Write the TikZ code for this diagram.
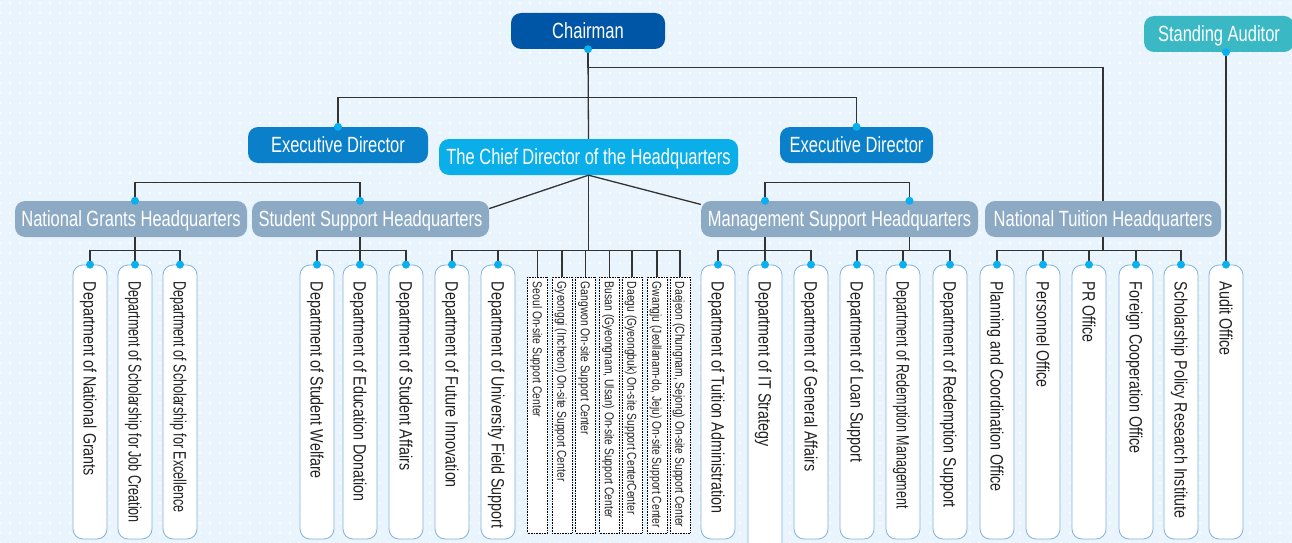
\documentclass[tikz,border=0pt]{standalone}
\usepackage{fontspec}
\setmainfont{Liberation Sans}[FakeStretch=0.8]
\newfontfamily\narrowfont{Liberation Sans}[FakeStretch=0.7]
\newfontfamily\headfont{Liberation Sans}[FakeStretch=0.75]
\usetikzlibrary{patterns.meta}

\definecolor{bgblue}{HTML}{EAF4FC}
\definecolor{chairblue}{HTML}{0056A6}
\definecolor{execblue}{HTML}{0A7FCA}
\definecolor{chiefcyan}{HTML}{0AAFEA}
\definecolor{auditteal}{HTML}{3AB8C4}
\definecolor{hqgrey}{HTML}{8DAAC5}
\definecolor{deptline}{HTML}{82B2DE}
\definecolor{dotblue}{HTML}{0AB0EE}
\definecolor{linegrey}{HTML}{333333}
\definecolor{inktext}{HTML}{222222}

\newcommand\topsize{\headfont\fontsize{22}{26}\selectfont}
\newcommand\deptsize{\fontsize{17.9}{20}\selectfont}
\newcommand\sitesize{\fontsize{12.9}{14}\selectfont}

\begin{document}
\begin{tikzpicture}[x=1pt,y=-1pt,
    topbox/.style={rounded corners=10pt, text=white, minimum height=36pt, inner sep=0pt,
      text height=15.5pt, text depth=0pt, font=\topsize},
    hqbox/.style={topbox, fill=hqgrey},
    dept/.style={draw=deptline, fill=white, rounded corners=10pt, line width=0.8pt,
      minimum width=34pt, minimum height=274pt, inner sep=0pt},
    depttext/.style={rotate=-90, anchor=west, inner sep=0pt, text=inktext,
      text height=12.8pt, text depth=0pt, font=\deptsize},
    narrowtext/.style={depttext, font={\narrowfont\deptsize}},
    site/.style={draw=black, densely dotted, fill=white, line width=0.6pt,
      minimum width=20pt, minimum height=256pt, inner sep=0pt},
    sitetext/.style={rotate=-90, anchor=west, inner sep=0pt, text=inktext,
      text height=9.2pt, text depth=0pt, font=\sitesize},
    link/.style={draw=linegrey, line width=1.3pt},
  ]

  \useasboundingbox (0,0) rectangle (1292,543);
  \fill[bgblue] (0,0) rectangle (1292,543);
  \fill[pattern={Dots[distance=10pt,radius=1.2pt]}, pattern color=white] (0,0) rectangle (1292,543);

  \node[topbox, fill=chairblue, minimum width=154pt] (chair) at (588,31) {Chairman};
  \node[topbox, fill=auditteal, minimum width=150pt] (auditor) at (1219,34) {Standing Auditor};
  \node[topbox, fill=execblue, minimum width=180pt] (exec1) at (338,145) {Executive Director};
  \node[topbox, fill=execblue, minimum width=153pt] (exec2) at (856.5,145) {Executive Director};
  \node[topbox, fill=chiefcyan, minimum width=299pt] (chief) at (588.5,157) {The Chief Director of the Headquarters};

  \node[hqbox, minimum width=232pt] (ng) at (131,219) {National Grants Headquarters};
  \node[hqbox, minimum width=237pt] (ssh) at (370.5,219) {Student Support Headquarters};
  \node[hqbox, minimum width=277pt] (msh) at (839.5,219) {Management Support Headquarters};
  \node[hqbox, minimum width=236pt] (nth) at (1103,219) {National Tuition Headquarters};

  % departments
  \node[dept] (ng1) at (90,402) {};  \node[depttext] (ng1t) at ([yshift=-17pt]ng1.north) {Department of National Grants};
  \node[dept] (ng2) at (135,402) {}; \node[narrowtext] (ng2t) at ([yshift=-17pt]ng2.north) {Department of Scholarship for Job Creation};
  \node[dept] (ng3) at (180,402) {}; \node[narrowtext] (ng3t) at ([yshift=-17pt]ng3.north) {Department of Scholarship for Excellence};

  \node[dept] (ss1) at (317,402) {}; \node[depttext] (ss1t) at ([yshift=-17pt]ss1.north) {Department of Student Welfare};
  \node[dept] (ss2) at (360,402) {}; \node[depttext] (ss2t) at ([yshift=-17pt]ss2.north) {Department of Education Donation};
  \node[dept] (ss3) at (406,402) {}; \node[depttext] (ss3t) at ([yshift=-17pt]ss3.north) {Department of Student Affairs};

  \node[dept] (cf1) at (452,402) {}; \node[depttext] (cf1t) at ([yshift=-17pt]cf1.north) {Department of Future Innovation};
  \node[dept] (cf2) at (498,402) {}; \node[depttext] (cf2t) at ([yshift=-17pt]cf2.north) {Department of University Field Support};

  \node[site] (s1) at (537.5,405) {}; \node[sitetext] (s1t) at ([yshift=-5pt]s1.north) {Seoul On-site Support Center};
  \node[site] (s2) at (562,405) {};   \node[sitetext] (s2t) at ([yshift=-5pt]s2.north) {Gyeonggi (Incheon) On-site Support Center};
  \node[site] (s3) at (585.5,405) {}; \node[sitetext] (s3t) at ([yshift=-5pt]s3.north) {Gangwon On-site Support Center};
  \node[site] (s4) at (609.5,405) {}; \node[sitetext] (s4t) at ([yshift=-5pt]s4.north) {Busan (Gyeongnam, Ulsan) On-site Support Center};
  \node[site] (s5) at (632,405) {};   \node[sitetext] (s5t) at ([yshift=-5pt]s5.north) {Daegu (Gyeongbuk) On-site Support CenterCenter};
  \node[site] (s6) at (657,405) {};   \node[sitetext] (s6t) at ([yshift=-5pt]s6.north) {Gwangju (Jeollanam-do, Jeju) On-site Support Center};
  \node[site] (s7) at (680,405) {};   \node[sitetext] (s7t) at ([yshift=-5pt]s7.north) {Daejeon (Chungnam, Sejong) On-site Support Center};

  \node[dept] (ms1) at (718,402) {}; \node[depttext] (ms1t) at ([yshift=-17pt]ms1.north) {Department of Tuition Administration};
  \node[dept, minimum height=300pt] (ms2) at (765,415) {}; \node[depttext] (ms2t) at ([yshift=-17pt]ms2.north) {Department of IT Strategy};
  \node[dept] (ms3) at (811,402) {}; \node[depttext] (ms3t) at ([yshift=-17pt]ms3.north) {Department of General Affairs};
  \node[dept] (ms4) at (857,402) {}; \node[depttext] (ms4t) at ([yshift=-17pt]ms4.north) {Department of Loan Support};
  \node[dept] (ms5) at (903,402) {}; \node[narrowtext] (ms5t) at ([yshift=-17pt]ms5.north) {Department of Redemption Management};
  \node[dept] (ms6) at (950,402) {}; \node[depttext] (ms6t) at ([yshift=-17pt]ms6.north) {Department of Redemption Support};

  \node[dept] (nt1) at (997,402) {};  \node[depttext] (nt1t) at ([yshift=-17pt]nt1.north) {Planning and Coordination Office};
  \node[dept] (nt2) at (1043,402) {}; \node[depttext] (nt2t) at ([yshift=-17pt]nt2.north) {Personnel Office};
  \node[dept] (nt3) at (1089,402) {}; \node[depttext] (nt3t) at ([yshift=-17pt]nt3.north) {PR Office};
  \node[dept] (nt4) at (1136,402) {}; \node[depttext] (nt4t) at ([yshift=-17pt]nt4.north) {Foreign Cooperation Office};
  \node[dept] (nt5) at (1181,402) {}; \node[depttext] (nt5t) at ([yshift=-17pt]nt5.north) {Scholarship Policy Research Institute};

  \node[dept] (au) at (1226,402) {}; \node[depttext] (aut) at ([yshift=-17pt]au.north) {Audit Office};

  % connectors
  \coordinate (autop) at (auditor.south -| au.north);
  \coordinate (ngtop) at (ng.north -| ng2.north);
  \coordinate (sstop) at (ssh.north -| ss2.north);
  \coordinate (mstopa) at (msh.north -| ms2.north);
  \coordinate (mstopb) at ([xshift=70pt]msh.north);

  \draw[link] (chair.south) -- (chief.north);
  \draw[link] (exec1.north) -- ++(0,-29) -| (exec2.north);
  \draw[link] (chair.south) -- ++(0,18) -| (nth.north);
  \draw[link] (chief.south) -- (ssh.5);
  \draw[link] (chief.south) -- (msh.174);
  \draw[link] (autop) -- (au.north);
  \draw[link] (ngtop) -- ++(0,-18) -| (sstop);
  \draw[link] (mstopa) -- ++(0,-18) -| (mstopb);

  \foreach \d in {ng1,ng2,ng3} \draw[link] (ng.south -| ng2.north) -- ++(0,13) -| (\d.north);
  \foreach \d in {ss1,ss2,ss3} \draw[link] (ssh.south -| ss2.north) -- ++(0,13) -| (\d.north);
  \foreach \d in {cf1,cf2,s1,s2,s3,s4,s5,s6,s7} \draw[link] (chief.south) -- ++(0,75) -| (\d.north);
  \foreach \d in {ms1,ms2,ms3} \draw[link] (msh.south -| ms2.north) -- ++(0,13) -| (\d.north);
  \foreach \d in {ms4,ms5,ms6} \draw[link] ([xshift=70pt]msh.south) -- ++(0,13) -| (\d.north);
  \foreach \d in {nt1,nt2,nt3,nt4,nt5} \draw[link] (nth.south) -- ++(0,13) -| (\d.north);

  \foreach \p in {chair.south,exec1.north,exec2.north,autop,ngtop,sstop,mstopa,mstopb,
      ng1.north,ng2.north,ng3.north,ss1.north,ss2.north,ss3.north,cf1.north,cf2.north,
      ms1.north,ms2.north,ms3.north,ms4.north,ms5.north,ms6.north,
      nt1.north,nt2.north,nt3.north,nt4.north,nt5.north,au.north}
    \fill[dotblue] (\p) circle (4pt);

\end{tikzpicture}
\end{document}
